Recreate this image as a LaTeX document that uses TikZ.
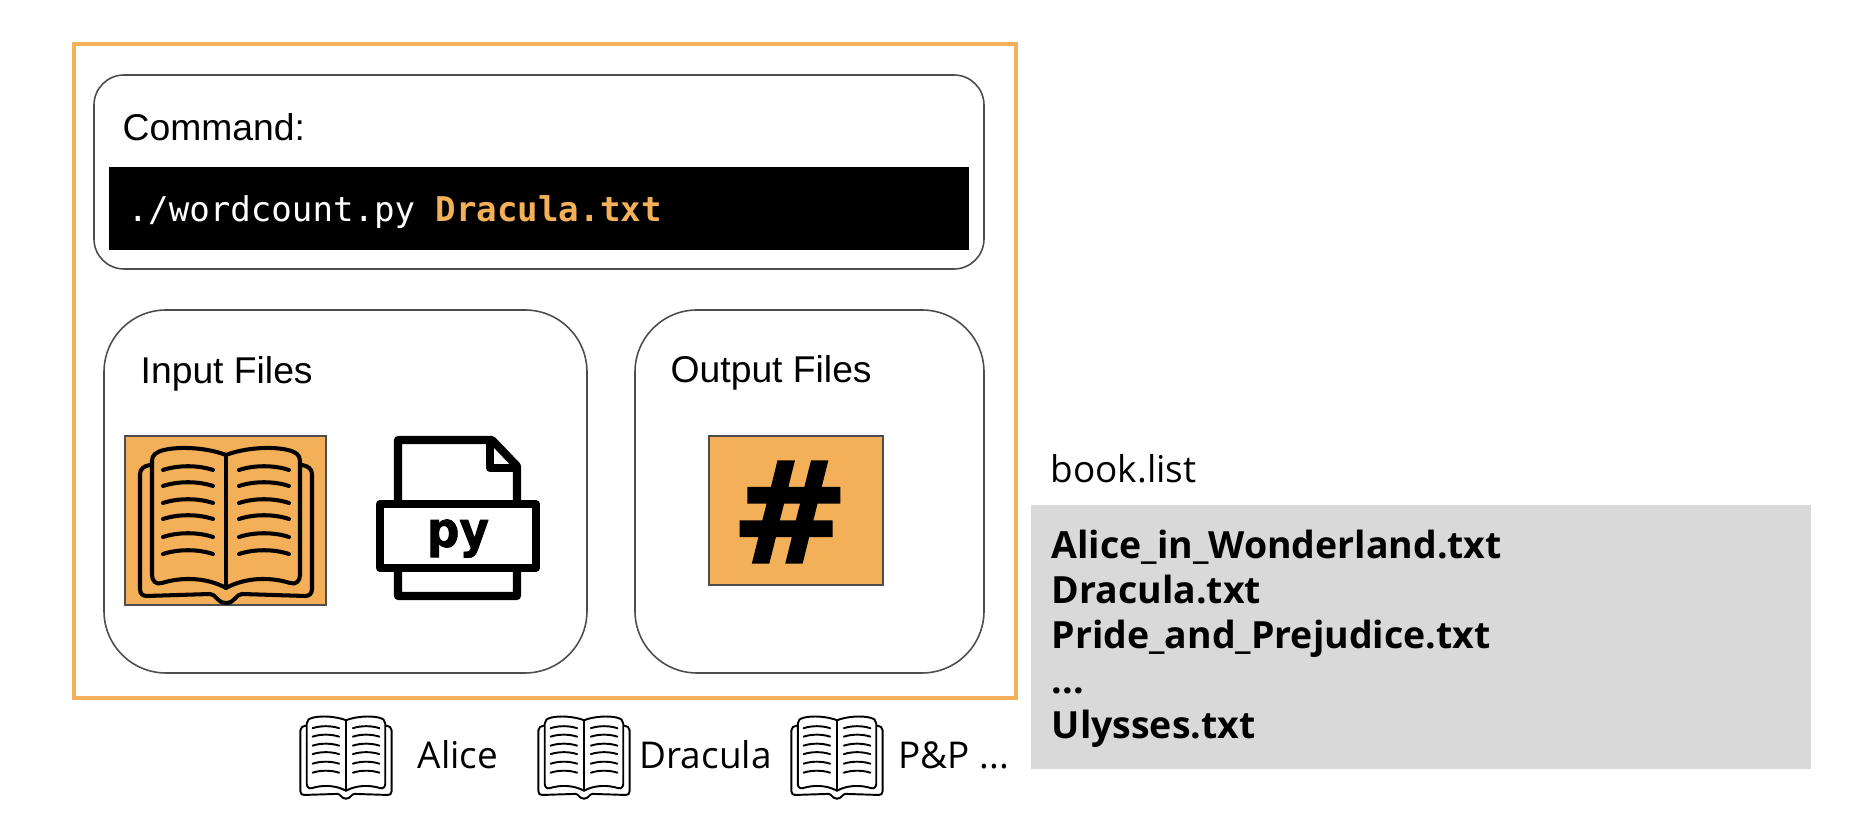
\documentclass[tikz,border=0pt]{standalone}
\usepackage{fontspec}
\setmainfont{Liberation Sans}
\setmonofont{DejaVu Sans Mono}
\newfontfamily\listfont{Open Sans}
\newfontfamily\iconfont[BoldFeatures={FakeBold=1.5}]{DejaVu Sans}
\definecolor{bookorange}{HTML}{F4B058}
\definecolor{listgray}{HTML}{D9D9D9}
\definecolor{boxgray}{HTML}{4D4D4D}
\tikzset{
  panel/.style={draw=boxgray, line width=0.45pt},
  label/.style={anchor=west, inner sep=0pt, font=\fontsize{10.6}{12}\selectfont},
  booklabel/.style={anchor=west, inner sep=0pt, font=\listfont\fontsize{10.5}{12}\selectfont},
  bookicon/.pic={
    \foreach \s in {1,-1} {
      \begin{scope}[xscale=\s, line cap=round, line join=round]
        \draw (0,8) .. controls (-18,1) and (-45,-1) .. (-62,3) .. controls (-70,5) and (-74,8) .. (-74,14) -- (-74,128)
          .. controls (-74,134) and (-70,138) .. (-64,136) .. controls (-45,130) and (-20,130) .. (0,141);
        \draw (-76,18) .. controls (-82,19) and (-86,22) .. (-86,27) -- (-86,142) .. controls (-86,147) and (-83,149) .. (-79,149)
          -- (-16,147) .. controls (-10,147) and (-9,156) .. (0,156);
        \foreach \y in {23,39,56,72,90,107}
          \draw (-63,\y) .. controls (-48,\y-5) and (-28,\y-5) .. (-13,\y);
      \end{scope}
    }
    \draw (0,8) -- (0,141);
  }
}

\begin{document}
\begin{tikzpicture}[x=0.01cm, y=-0.01cm]
\useasboundingbox (0,0) rectangle (1850,828);

% outer frame
\draw[bookorange, line width=1.4pt] (74,44) rectangle (1016,698);

% command box
\draw[panel, rounded corners=0.3cm] (94,75) rectangle (984,269);
\node[label] (command) at (122,127) {Command:};
\fill[black] (109,167) rectangle (969,250);
\node[anchor=west, inner sep=0pt, text=white, font=\ttfamily\fontsize{9.7}{12}\selectfont] (cmdline) at (127,212)
  {./wordcount.py \textcolor{bookorange}{\textbf{Dracula.txt}}};

% input files
\draw[panel, rounded corners=0.62cm] (104,310) rectangle (587,673);
\node[label] (input) at (140,374) {Input Files};
\draw[boxgray, fill=bookorange, line width=0.4pt] (125,436) rectangle (326,605);
\pic[line width=1.15pt] at (226,447) {bookicon};

% python file
\draw[line width=2.3pt, line join=round, fill=white] (398,440) -- (492,440) -- (517,466) -- (517,596) -- (398,596) -- cycle;
\draw[line width=2.3pt, line join=round] (490,440) -- (490,468) -- (517,468);
\draw[line width=2.3pt, line join=round, fill=white] (380,504) rectangle (536,568);
\node[anchor=base, inner sep=0pt, xscale=0.92, font=\iconfont\bfseries\fontsize{14}{14}\selectfont] (pyfile) at (458,547) {py};

% output files
\draw[panel, rounded corners=0.62cm] (635,310) rectangle (984,673);
\node[label] (output) at (670,373) {Output Files};
\draw[boxgray, fill=bookorange, line width=0.4pt] (709,436) rectangle (883,585);
\node[inner sep=0pt, font=\iconfont\bfseries\fontsize{40}{40}\selectfont] (hash) at (790,512) {\#};

% list of books
\node[booklabel] (listname) at (1050,469) {book.list};
\fill[listgray] (1031,505) rectangle (1811,769);
\node[anchor=north west, inner sep=0pt, align=left, font=\listfont\bfseries\fontsize{10.65}{12.8}\selectfont] (booklist) at (1051,529)
  {Alice\_in\_Wonderland.txt\\Dracula.txt\\Pride\_and\_Prejudice.txt\\...\\Ulysses.txt};

% books under the frame
\pic[scale=0.53, line width=0.55pt] at (346,716) {bookicon};
\pic[scale=0.53, line width=0.55pt] at (584,716) {bookicon};
\pic[scale=0.53, line width=0.55pt] at (837,716) {bookicon};
\node[booklabel] (alice) at (417,755) {Alice};
\node[booklabel] (dracula) at (639,755) {Dracula};
\node[booklabel] (pandp) at (898,755) {P\&P ...};
\end{tikzpicture}
\end{document}
